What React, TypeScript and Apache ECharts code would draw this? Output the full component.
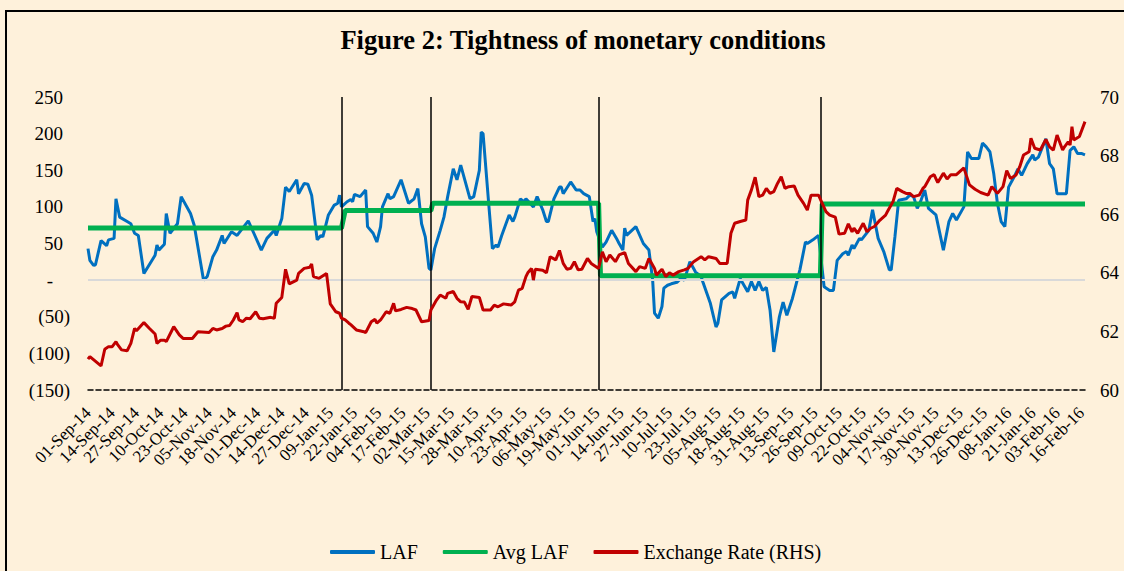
import React, { useEffect, useRef } from "react";
import * as echarts from "echarts";

const TITLE = "Figure 2: Tightness of monetary conditions";
const START = "2014-09-01";
const END = "2016-02-18";
const LABEL_EVERY_DAYS = 13;
const POLICY_DATES = ["2015-01-15", "2015-03-04", "2015-06-02", "2015-09-29"];
const LEFT_TICKS = { min: -150, max: 250, interval: 50 };
const RIGHT_TICKS = { min: 60, max: 70, interval: 2 };
const MONTHS = ["Jan", "Feb", "Mar", "Apr", "May", "Jun", "Jul", "Aug", "Sep", "Oct", "Nov", "Dec"];

const LAF: [string, number][] = [
  ["2014-09-01", 43], ["2014-09-02", 27], ["2014-09-04", 20], ["2014-09-05", 21], ["2014-09-08", 54],
  ["2014-09-11", 47], ["2014-09-12", 55], ["2014-09-15", 57], ["2014-09-16", 111], ["2014-09-18", 86],
  ["2014-09-22", 80], ["2014-09-24", 77], ["2014-09-26", 64], ["2014-09-28", 61], ["2014-10-01", 9],
  ["2014-10-07", 34], ["2014-10-08", 48], ["2014-10-09", 41], ["2014-10-12", 49], ["2014-10-13", 91],
  ["2014-10-15", 64], ["2014-10-19", 77], ["2014-10-21", 114], ["2014-10-26", 91], ["2014-10-28", 75],
  ["2014-11-02", 0], ["2014-11-04", 5], ["2014-11-07", 32], ["2014-11-09", 41], ["2014-11-12", 61],
  ["2014-11-13", 50], ["2014-11-17", 66], ["2014-11-20", 61], ["2014-11-26", 81], ["2014-11-29", 64],
  ["2014-12-03", 41], ["2014-12-06", 57], ["2014-12-10", 68], ["2014-12-11", 61], ["2014-12-14", 84],
  ["2014-12-16", 127], ["2014-12-18", 121], ["2014-12-22", 137], ["2014-12-23", 118], ["2014-12-26", 132],
  ["2014-12-28", 131], ["2014-12-30", 116], ["2015-01-02", 55], ["2015-01-04", 61], ["2015-01-05", 59],
  ["2015-01-08", 89], ["2015-01-11", 102], ["2015-01-13", 105], ["2015-01-14", 116], ["2015-01-15", 100],
  ["2015-01-18", 107], ["2015-01-20", 110], ["2015-01-21", 107], ["2015-01-22", 117], ["2015-01-25", 114],
  ["2015-01-28", 123], ["2015-01-29", 73], ["2015-02-01", 64], ["2015-02-03", 52], ["2015-02-05", 73],
  ["2015-02-06", 100], ["2015-02-09", 118], ["2015-02-10", 111], ["2015-02-12", 114], ["2015-02-16", 137],
  ["2015-02-20", 105], ["2015-02-23", 111], ["2015-02-25", 125], ["2015-02-27", 77], ["2015-03-01", 59],
  ["2015-03-03", 16], ["2015-03-04", 14], ["2015-03-06", 43], ["2015-03-09", 68], ["2015-03-11", 86],
  ["2015-03-13", 114], ["2015-03-16", 152], ["2015-03-18", 137], ["2015-03-20", 157], ["2015-03-25", 111],
  ["2015-03-27", 114], ["2015-03-30", 150], ["2015-03-31", 202], ["2015-04-01", 200], ["2015-04-04", 105],
  ["2015-04-06", 43], ["2015-04-08", 48], ["2015-04-09", 45], ["2015-04-11", 61], ["2015-04-15", 89],
  ["2015-04-17", 80], ["2015-04-18", 86], ["2015-04-21", 111], ["2015-04-23", 107], ["2015-04-24", 111],
  ["2015-04-28", 100], ["2015-04-30", 114], ["2015-05-03", 96], ["2015-05-05", 80], ["2015-05-06", 80],
  ["2015-05-09", 111], ["2015-05-12", 127], ["2015-05-13", 127], ["2015-05-14", 118], ["2015-05-18", 134],
  ["2015-05-21", 123], ["2015-05-23", 123], ["2015-05-25", 118], ["2015-05-28", 114], ["2015-05-30", 80],
  ["2015-05-31", 84], ["2015-06-01", 66], ["2015-06-04", 45], ["2015-06-06", 52], ["2015-06-09", 68],
  ["2015-06-12", 55], ["2015-06-13", 50], ["2015-06-15", 41], ["2015-06-16", 71], ["2015-06-17", 61],
  ["2015-06-22", 73], ["2015-06-26", 50], ["2015-06-29", 41], ["2015-07-01", 0], ["2015-07-02", -45],
  ["2015-07-04", -52], ["2015-07-06", -36], ["2015-07-07", -11], ["2015-07-09", -7], ["2015-07-11", -5],
  ["2015-07-14", -3], ["2015-07-16", 2], ["2015-07-18", 0], ["2015-07-21", 25], ["2015-07-24", 11],
  ["2015-07-27", 5], ["2015-07-28", -3], ["2015-08-01", -32], ["2015-08-04", -64], ["2015-08-05", -59],
  ["2015-08-07", -27], ["2015-08-11", -18], ["2015-08-13", -16], ["2015-08-14", -25], ["2015-08-17", 2],
  ["2015-08-21", -16], ["2015-08-23", -2], ["2015-08-25", -14], ["2015-08-27", -2], ["2015-08-29", -14],
  ["2015-08-31", -10], ["2015-09-02", -41], ["2015-09-04", -98], ["2015-09-07", -50], ["2015-09-09", -30],
  ["2015-09-11", -48], ["2015-09-14", -25], ["2015-09-18", 14], ["2015-09-21", 52], ["2015-09-22", 50],
  ["2015-09-25", 55], ["2015-09-28", 61], ["2015-10-01", -9], ["2015-10-04", -14], ["2015-10-06", -14],
  ["2015-10-08", 27], ["2015-10-11", 36], ["2015-10-13", 39], ["2015-10-14", 34], ["2015-10-16", 48],
  ["2015-10-17", 43], ["2015-10-20", 57], ["2015-10-21", 55], ["2015-10-25", 68], ["2015-10-27", 96],
  ["2015-10-30", 57], ["2015-11-02", 39], ["2015-11-05", 14], ["2015-11-06", 14], ["2015-11-08", 59],
  ["2015-11-10", 109], ["2015-11-14", 111], ["2015-11-16", 116], ["2015-11-18", 114], ["2015-11-20", 98],
  ["2015-11-22", 109], ["2015-11-24", 123], ["2015-11-26", 98], ["2015-11-30", 89], ["2015-12-04", 41],
  ["2015-12-07", 80], ["2015-12-09", 91], ["2015-12-11", 82], ["2015-12-15", 100], ["2015-12-17", 175],
  ["2015-12-19", 166], ["2015-12-23", 166], ["2015-12-25", 187], ["2015-12-27", 182], ["2015-12-29", 175],
  ["2015-12-31", 146], ["2016-01-02", 105], ["2016-01-04", 80], ["2016-01-06", 73], ["2016-01-08", 127],
  ["2016-01-11", 141], ["2016-01-13", 152], ["2016-01-15", 143], ["2016-01-18", 159], ["2016-01-21", 171],
  ["2016-01-22", 164], ["2016-01-24", 168], ["2016-01-28", 193], ["2016-01-30", 159], ["2016-02-01", 152],
  ["2016-02-03", 118], ["2016-02-06", 118], ["2016-02-08", 118], ["2016-02-10", 177], ["2016-02-12", 182],
  ["2016-02-14", 173], ["2016-02-16", 173], ["2016-02-18", 171],
];

const AVG_LAF: [string, number][] = [
  ["2014-09-01", 71], ["2015-01-15", 71], ["2015-01-17", 95], ["2015-03-04", 95], ["2015-03-05", 105],
  ["2015-06-02", 105], ["2015-06-03", 6], ["2015-09-29", 6], ["2015-09-30", 104], ["2016-02-18", 104],
];

const EXCHANGE_RATE: [string, number][] = [
  ["2014-09-01", 61.05], ["2014-09-02", 61.14], ["2014-09-08", 60.82], ["2014-09-10", 61.39], ["2014-09-12", 61.48],
  ["2014-09-14", 61.48], ["2014-09-16", 61.65], ["2014-09-17", 61.54], ["2014-09-19", 61.37], ["2014-09-22", 61.34],
  ["2014-09-24", 61.59], ["2014-09-26", 62.1], ["2014-09-27", 62.02], ["2014-10-01", 62.3], ["2014-10-04", 62.1],
  ["2014-10-07", 61.91], ["2014-10-08", 61.59], ["2014-10-10", 61.7], ["2014-10-12", 61.7], ["2014-10-13", 61.65],
  ["2014-10-17", 62.16], ["2014-10-20", 61.88], ["2014-10-22", 61.76], ["2014-10-27", 61.76], ["2014-10-30", 61.99],
  ["2014-11-05", 61.96], ["2014-11-07", 62.1], ["2014-11-09", 62.05], ["2014-11-12", 62.1], ["2014-11-14", 62.18],
  ["2014-11-16", 62.2], ["2014-11-18", 62.39], ["2014-11-20", 62.64], ["2014-11-21", 62.39], ["2014-11-23", 62.33],
  ["2014-11-25", 62.45], ["2014-11-27", 62.43], ["2014-11-30", 62.67], ["2014-12-02", 62.45], ["2014-12-04", 62.43],
  ["2014-12-08", 62.48], ["2014-12-10", 62.45], ["2014-12-11", 62.96], ["2014-12-14", 63.16], ["2014-12-16", 64.12],
  ["2014-12-18", 63.62], ["2014-12-22", 63.75], ["2014-12-23", 63.98], ["2014-12-26", 64.15], ["2014-12-29", 64.19],
  ["2014-12-30", 64.3], ["2014-12-31", 63.87], ["2015-01-03", 63.81], ["2015-01-07", 63.98], ["2015-01-09", 62.94],
  ["2015-01-12", 62.67], ["2015-01-14", 62.62], ["2015-01-15", 62.45], ["2015-01-17", 62.39], ["2015-01-19", 62.28],
  ["2015-01-20", 62.23], ["2015-01-23", 62.05], ["2015-01-27", 61.99], ["2015-01-28", 61.96], ["2015-01-31", 62.33],
  ["2015-02-02", 62.41], ["2015-02-03", 62.28], ["2015-02-05", 62.39], ["2015-02-08", 62.67], ["2015-02-10", 62.62],
  ["2015-02-12", 62.96], ["2015-02-13", 62.7], ["2015-02-16", 62.75], ["2015-02-19", 62.82], ["2015-02-22", 62.78],
  ["2015-02-24", 62.73], ["2015-02-27", 62.33], ["2015-03-03", 62.37], ["2015-03-04", 62.73], ["2015-03-07", 63.07],
  ["2015-03-09", 63.24], ["2015-03-12", 63.13], ["2015-03-13", 63.3], ["2015-03-16", 63.36], ["2015-03-18", 63.13],
  ["2015-03-20", 63.01], ["2015-03-22", 63.0], ["2015-03-24", 62.75], ["2015-03-26", 63.19], ["2015-03-30", 63.16],
  ["2015-04-01", 62.73], ["2015-04-05", 62.73], ["2015-04-07", 62.9], ["2015-04-09", 62.84], ["2015-04-12", 62.94],
  ["2015-04-16", 62.9], ["2015-04-18", 63.01], ["2015-04-20", 63.41], ["2015-04-22", 63.47], ["2015-04-24", 63.87],
  ["2015-04-25", 64.0], ["2015-04-27", 64.15], ["2015-04-28", 63.75], ["2015-04-29", 64.12], ["2015-05-03", 64.09],
  ["2015-05-05", 64.0], ["2015-05-07", 64.55], ["2015-05-10", 64.44], ["2015-05-12", 64.76], ["2015-05-14", 64.32],
  ["2015-05-16", 64.12], ["2015-05-18", 64.15], ["2015-05-20", 64.38], ["2015-05-22", 64.1], ["2015-05-24", 64.12],
  ["2015-05-27", 64.49], ["2015-05-29", 64.32], ["2015-06-02", 64.15], ["2015-06-04", 64.72], ["2015-06-06", 64.38],
  ["2015-06-08", 64.61], ["2015-06-11", 64.38], ["2015-06-13", 64.61], ["2015-06-16", 64.69], ["2015-06-18", 64.32],
  ["2015-06-22", 64.04], ["2015-06-24", 64.21], ["2015-06-27", 64.15], ["2015-06-29", 64.49], ["2015-07-02", 64.15],
  ["2015-07-03", 63.92], ["2015-07-06", 64.12], ["2015-07-08", 63.87], ["2015-07-10", 64.0], ["2015-07-12", 63.92],
  ["2015-07-15", 64.04], ["2015-07-18", 64.1], ["2015-07-20", 64.15], ["2015-07-23", 64.38], ["2015-07-27", 64.55],
  ["2015-07-29", 64.44], ["2015-07-31", 64.55], ["2015-08-04", 64.49], ["2015-08-06", 64.32], ["2015-08-10", 64.32],
  ["2015-08-12", 65.35], ["2015-08-14", 65.69], ["2015-08-17", 65.75], ["2015-08-20", 65.8], ["2015-08-21", 66.48],
  ["2015-08-23", 66.83], ["2015-08-25", 67.26], ["2015-08-27", 66.6], ["2015-08-29", 66.65], ["2015-08-31", 66.88],
  ["2015-09-02", 66.71], ["2015-09-04", 66.77], ["2015-09-06", 67.05], ["2015-09-08", 67.28], ["2015-09-10", 66.88],
  ["2015-09-12", 66.94], ["2015-09-15", 66.96], ["2015-09-17", 66.65], ["2015-09-20", 66.37], ["2015-09-22", 66.14],
  ["2015-09-24", 66.65], ["2015-09-28", 66.65], ["2015-09-30", 66.37], ["2015-10-02", 66.09], ["2015-10-04", 65.97],
  ["2015-10-07", 65.9], ["2015-10-09", 65.32], ["2015-10-12", 65.35], ["2015-10-14", 65.67], ["2015-10-16", 65.4],
  ["2015-10-17", 65.52], ["2015-10-19", 65.35], ["2015-10-22", 65.69], ["2015-10-24", 65.4], ["2015-10-26", 65.52],
  ["2015-10-28", 65.58], ["2015-10-31", 65.8], ["2015-11-03", 65.97], ["2015-11-04", 66.09], ["2015-11-07", 66.43],
  ["2015-11-09", 66.88], ["2015-11-12", 66.77], ["2015-11-14", 66.71], ["2015-11-16", 66.71], ["2015-11-18", 66.6],
  ["2015-11-21", 66.65], ["2015-11-23", 66.88], ["2015-11-24", 66.94], ["2015-11-27", 67.28], ["2015-11-29", 67.35],
  ["2015-12-01", 67.08], ["2015-12-04", 67.4], ["2015-12-06", 67.2], ["2015-12-08", 67.35], ["2015-12-11", 67.35],
  ["2015-12-15", 67.58], ["2015-12-18", 67.0], ["2015-12-21", 66.85], ["2015-12-24", 66.74], ["2015-12-28", 66.65],
  ["2015-12-30", 66.94], ["2016-01-02", 66.71], ["2016-01-05", 66.94], ["2016-01-07", 67.49], ["2016-01-09", 67.22],
  ["2016-01-12", 67.34], ["2016-01-14", 67.62], ["2016-01-16", 68.02], ["2016-01-19", 68.13], ["2016-01-20", 68.59],
  ["2016-01-22", 68.25], ["2016-01-25", 68.19], ["2016-01-28", 68.55], ["2016-01-30", 68.3], ["2016-02-01", 68.19],
  ["2016-02-03", 68.7], ["2016-02-06", 68.19], ["2016-02-07", 68.3], ["2016-02-09", 68.47], ["2016-02-10", 68.36],
  ["2016-02-11", 68.99], ["2016-02-12", 68.53], ["2016-02-15", 68.65], ["2016-02-18", 69.16],
];

function buildDays(start: string, end: string): string[] {
  const out: string[] = [];
  const d = new Date(start + "T00:00:00Z");
  const e = new Date(end + "T00:00:00Z");
  while (d.getTime() <= e.getTime()) {
    out.push(d.toISOString().slice(0, 10));
    d.setUTCDate(d.getUTCDate() + 1);
  }
  return out;
}

function fmtDay(iso: string): string {
  const [y, m, dd] = iso.split("-");
  return `${dd}-${MONTHS[Number(m) - 1]}-${y.slice(2)}`;
}

const SERIF = "'Liberation Serif', 'Times New Roman', serif";

export default function App() {
  const ref = useRef<HTMLDivElement>(null);
  useEffect(() => {
    if (!ref.current) return;
    const chart = echarts.init(ref.current, null, { renderer: "svg" });
    const days = buildDays(START, END);
    chart.setOption({
      animation: false,
      backgroundColor: "#FEF1DB",
      textStyle: { fontFamily: SERIF, color: "#000" },
      graphic: [
        {
          type: "rect",
          silent: true,
          shape: { x: 6, y: 11, width: 1300, height: 700 },
          style: { fill: "none", stroke: "#000", lineWidth: 2 },
        },
        {
          type: "text",
          x: 583,
          y: 40,
          style: {
            text: TITLE,
            fontFamily: SERIF,
            fontSize: 26.5,
            fontWeight: "bold",
            fill: "#000",
            textAlign: "center",
            textVerticalAlign: "middle",
          },
        },
      ],
      grid: { left: 88, right: 39, top: 97, bottom: 181, containLabel: false, outerBoundsMode: "none" },
      legend: {
        left: 330,
        top: 542,
        padding: 0,
        itemWidth: 45,
        itemHeight: 4,
        itemGap: 25,
        icon: "roundRect",
        textStyle: { fontFamily: SERIF, fontSize: 20, color: "#000" },
        data: ["LAF", "Avg LAF", "Exchange Rate (RHS)"],
      },
      xAxis: {
        type: "category",
        data: days,
        boundaryGap: false,
        axisLine: { onZero: false, lineStyle: { color: "#000", type: [5, 3], width: 1.5 } },
        axisTick: { show: false },
        splitLine: { show: false },
        axisLabel: {
          interval: (index: number) => index % LABEL_EVERY_DAYS === 0,
          rotate: 45,
          margin: 20,
          fontSize: 17,
          fontFamily: SERIF,
          color: "#000",
          showMinLabel: true,
          showMaxLabel: true,
          hideOverlap: false,
          formatter: (v: string) => fmtDay(v),
        },
      },
      yAxis: [
        {
          type: "value",
          ...LEFT_TICKS,
          position: "left",
          splitLine: { show: false },
          axisLine: { show: false },
          axisTick: { show: false },
          axisLabel: {
            margin: 18,
            fontSize: 19,
            fontFamily: SERIF,
            color: "#000",
            formatter: (v: number) => (v === 0 ? "{z|-}" : v < 0 ? `(${-v})` : `{p|${v}}`),
            rich: {
              z: { fontSize: 19, fontFamily: SERIF, color: "#000", padding: [0, 17, 0, 0] },
              p: { fontSize: 19, fontFamily: SERIF, color: "#000", padding: [0, 7, 0, 0] },
            },
          },
        },
        {
          type: "value",
          ...RIGHT_TICKS,
          position: "right",
          splitLine: { show: false },
          axisLine: { show: false },
          axisTick: { show: false },
          axisLabel: { margin: 15, fontSize: 19, fontFamily: SERIF, color: "#000" },
        },
      ],
      series: [
        {
          name: "LAF",
          type: "line",
          yAxisIndex: 0,
          data: LAF,
          symbol: "none",
          color: "#0070C0",
          lineStyle: { color: "#0070C0", width: 3 },
          markLine: {
            silent: true,
            symbol: "none",
            label: { show: false },
            animation: false,
            data: [
              { yAxis: 0, lineStyle: { color: "#D9D9D9", width: 2, type: "solid" } },
              ...POLICY_DATES.map((d) => ({ xAxis: d, lineStyle: { color: "#000", width: 1.5, type: "solid" } })),
            ],
          },
          z: 3,
        },
        {
          name: "Avg LAF",
          type: "line",
          yAxisIndex: 0,
          data: AVG_LAF,
          symbol: "none",
          color: "#00B050",
          lineStyle: { color: "#00B050", width: 5 },
          z: 4,
        },
        {
          name: "Exchange Rate (RHS)",
          type: "line",
          yAxisIndex: 1,
          data: EXCHANGE_RATE,
          symbol: "none",
          color: "#C00000",
          lineStyle: { color: "#C00000", width: 3 },
          z: 5,
        },
      ],
    });
    return () => chart.dispose();
  }, []);
  return <div ref={ref} style={{ position: "fixed", left: 0, top: 0, width: 1124, height: 571 }} />;
}
